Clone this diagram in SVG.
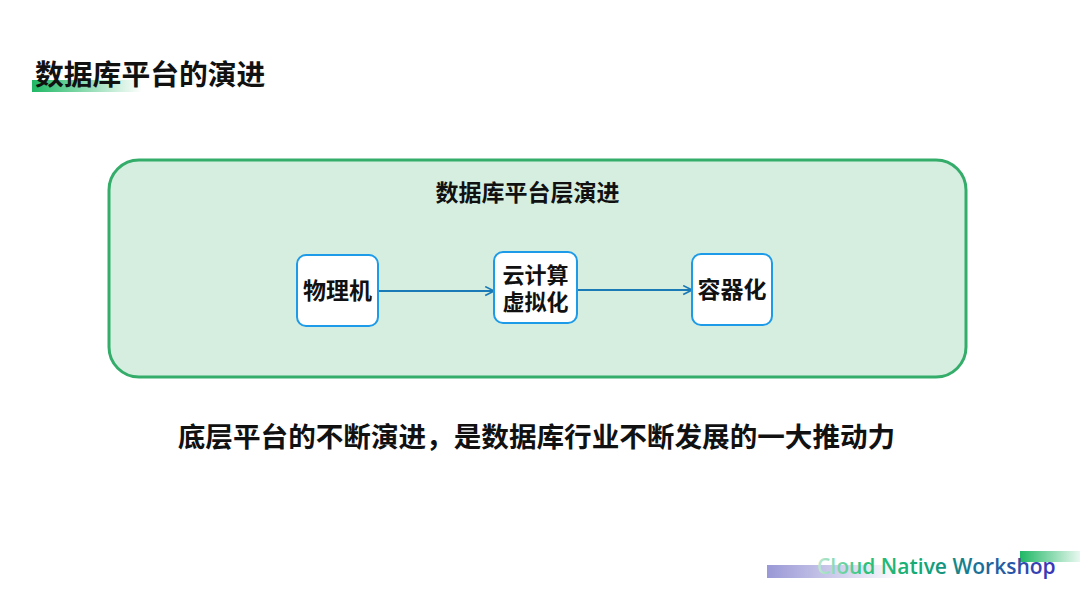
<svg xmlns="http://www.w3.org/2000/svg" width="1080" height="593" viewBox="0 0 1080 593">
<defs>
<style>
.cjk{font-family:"Noto Sans CJK SC","Noto Sans",sans-serif;font-weight:bold;fill:#111}
.node rect{fill:#fff;stroke:#1e9be8;stroke-width:2}
.conn{stroke:#1a7ab5;stroke-width:2;fill:none;marker-end:url(#arr)}
</style>
<marker id="arr" viewBox="0 0 10 10" refX="9" refY="5" markerWidth="11" markerHeight="11" orient="auto" markerUnits="userSpaceOnUse">
<path d="M1,1 L9,5 L1,9" fill="none" stroke="#1a7ab5" stroke-width="1.5"/>
</marker>
<linearGradient id="tbar" x1="0" x2="1" y1="0" y2="0">
<stop offset="0" stop-color="#1fb865"/>
<stop offset="1" stop-color="#1fb865" stop-opacity="0"/>
</linearGradient>
<linearGradient id="pbar" x1="0" x2="1" y1="0" y2="0">
<stop offset="0" stop-color="#9a98d6"/>
<stop offset="1" stop-color="#9a98d6" stop-opacity="0"/>
</linearGradient>
<linearGradient id="gbar" x1="0" x2="1" y1="0" y2="0">
<stop offset="0" stop-color="#1fb865"/>
<stop offset="1" stop-color="#1fb865" stop-opacity="0.1"/>
</linearGradient>
<linearGradient id="logo" x1="817" x2="1053" y1="0" y2="0" gradientUnits="userSpaceOnUse">
<stop offset="0" stop-color="#bfe8d3"/>
<stop offset="0.2" stop-color="#2ec27a"/>
<stop offset="0.45" stop-color="#12a874"/>
<stop offset="0.7" stop-color="#1c6c9a"/>
<stop offset="1" stop-color="#3b35b8"/>
</linearGradient>
</defs>
<rect width="1080" height="593" fill="#fff"/>
<g id="title">
<rect x="32" y="80" width="110" height="12" fill="url(#tbar)"/>
<text class="cjk" x="35" y="85" font-size="28.8">数据库平台的演进</text>
</g>
<g id="container">
<rect x="109" y="160" width="857" height="217" rx="30" fill="#d5eee0" stroke="#35ad6a" stroke-width="3"/>
<text class="cjk" x="527.5" y="201" font-size="23" text-anchor="middle">数据库平台层演进</text>
</g>
<g id="connectors">
<line class="conn" x1="378" y1="291" x2="494" y2="291"/>
<line class="conn" x1="577" y1="290" x2="692" y2="290"/>
</g>
<g id="n1" class="node">
<rect x="297" y="255" width="81" height="71" rx="9"/>
<text class="cjk" x="337.5" y="299" font-size="23" text-anchor="middle">物理机</text>
</g>
<g id="n2" class="node">
<rect x="494" y="252" width="83" height="71" rx="9"/>
<text class="cjk" font-size="22" text-anchor="middle"><tspan x="535.5" y="283">云计算</tspan><tspan x="535.5" y="310">虚拟化</tspan></text>
</g>
<g id="n3" class="node">
<rect x="692" y="254" width="80" height="71" rx="9"/>
<text class="cjk" x="732" y="298" font-size="23" text-anchor="middle">容器化</text>
</g>
<g id="caption">
<text class="cjk" x="536.5" y="447" font-size="27.6" text-anchor="middle">底层平台的不断演进，是数据库行业不断发展的一大推动力</text>
</g>
<g id="logo-mark">
<rect x="767" y="565" width="135" height="13" fill="url(#pbar)"/>
<rect x="1020" y="551" width="60" height="11" fill="url(#gbar)"/>
<text x="817" y="574" font-family="'Open Sans','Noto Sans',sans-serif" font-weight="600" font-size="21" fill="url(#logo)">Cloud Native Workshop</text>
</g>
</svg>
